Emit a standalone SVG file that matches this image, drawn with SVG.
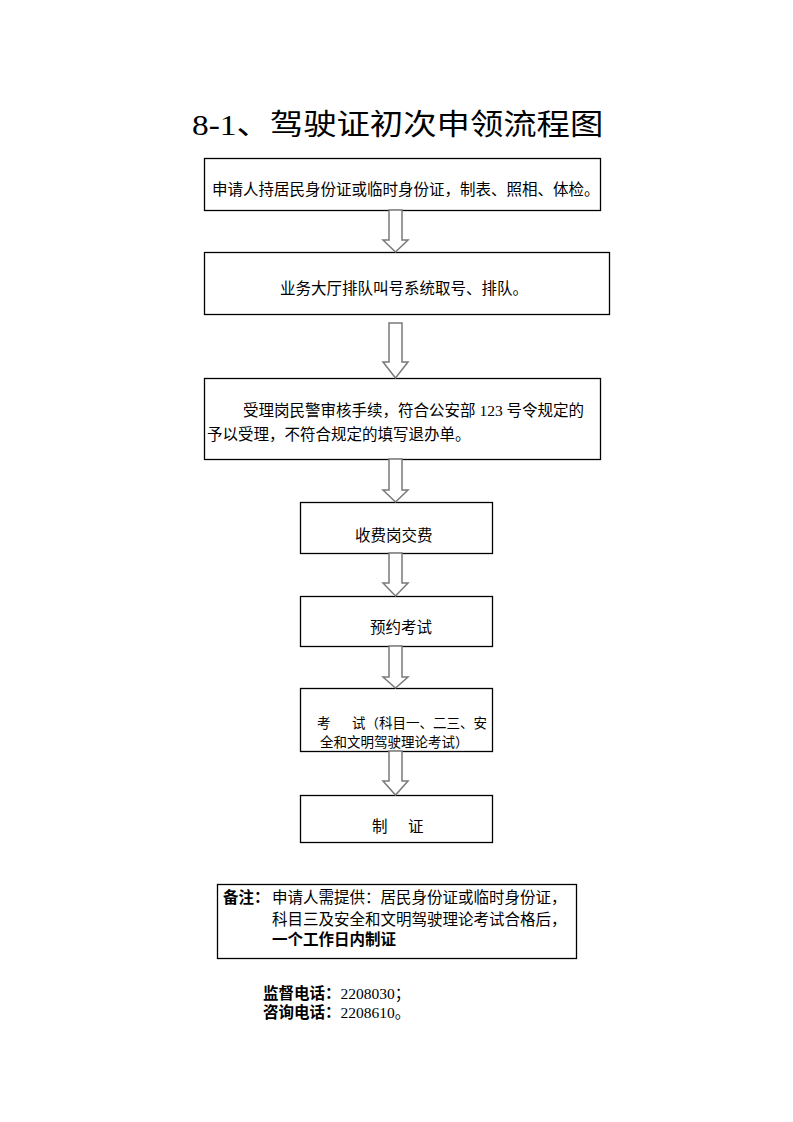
<svg xmlns="http://www.w3.org/2000/svg" width="793" height="1122" viewBox="0 0 793 1122">
<style>
.box{fill:#fff;stroke:#000;stroke-width:1.3}
.arr{fill:#fff;stroke:#7a7a7a;stroke-width:1.5;stroke-linejoin:miter}
.t{font-family:"Liberation Serif","Noto Sans CJK SC",serif;font-size:15.5px;fill:#000}
.s{font-size:13.5px}
.b{font-weight:bold}
.title{font-family:"Liberation Serif","Noto Sans CJK SC",serif;font-size:29px;fill:#000}
</style>
<rect width="793" height="1122" fill="#fff"/>
<g id="title">
<text class="title" transform="translate(192,135) scale(1.15,1)">8-1、驾驶证初次申领流程图</text>
</g>
<g id="n1">
<rect class="box" x="204.5" y="158.5" width="396" height="52"/>
<text class="t" x="212" y="194.5">申请人持居民身份证或临时身份证，制表、照相、体检。</text>
</g>
<g id="n2">
<rect class="box" x="204.5" y="252.5" width="405" height="62"/>
<text class="t" x="280" y="294">业务大厅排队叫号系统取号、排队。</text>
</g>
<g id="n3">
<rect class="box" x="204.5" y="378.5" width="396" height="81"/>
<text class="t" x="243" y="416">受理岗民警审核手续，符合公安部 123 号令规定的</text>
<text class="t" x="207" y="440">予以受理，不符合规定的填写退办单。</text>
</g>
<g id="n4">
<rect class="box" x="300.5" y="502.5" width="192" height="51"/>
<text class="t" x="355" y="540.5">收费岗交费</text>
</g>
<g id="n5">
<rect class="box" x="300.5" y="596.5" width="192" height="50"/>
<text class="t" x="370" y="632.5">预约考试</text>
</g>
<g id="n6">
<rect class="box" x="300.5" y="688.5" width="192" height="63"/>
<text class="t s" x="317" y="728">考</text>
<text class="t s" x="352" y="728">试（科目一、二三、安</text>
<text class="t s" x="320" y="747">全和文明驾驶理论考试）</text>
</g>
<g id="n7">
<rect class="box" x="300.5" y="795.5" width="192" height="47"/>
<text class="t" x="372" y="831.5">制</text>
<text class="t" x="408" y="831.5">证</text>
</g>
<g id="connectors">
<polygon class="arr" points="389,210 402,210 402,240 408,240 395.5,252 383,240 389,240"/>
<polygon class="arr" points="389,323 402,323 402,362 408,362 395.5,378 383,362 389,362"/>
<polygon class="arr" points="389,459 402,459 402,490 408,490 395.5,502 383,490 389,490"/>
<polygon class="arr" points="389,553 402,553 402,583 408,583 395.5,596 383,583 389,583"/>
<polygon class="arr" points="389,646 402,646 402,677 408,677 395.5,688 383,677 389,677"/>
<polygon class="arr" points="389,751 402,751 402,781 408,781 395.5,795 383,781 389,781"/>
</g>
<g id="note">
<rect class="box" x="217.5" y="884.5" width="359" height="74"/>
<text class="t b" x="223" y="902.5">备注：</text>
<text class="t" x="272" y="902.5">申请人需提供：居民身份证或临时身份证，</text>
<text class="t" x="272" y="924.5">科目三及安全和文明驾驶理论考试合格后，</text>
<text class="t b" x="272" y="944.5">一个工作日内制证</text>
</g>
<g id="phones">
<text class="t" x="263" y="999"><tspan class="b">监督电话：</tspan>2208030；</text>
<text class="t" x="263" y="1017.5"><tspan class="b">咨询电话：</tspan>2208610。</text>
</g>
</svg>
